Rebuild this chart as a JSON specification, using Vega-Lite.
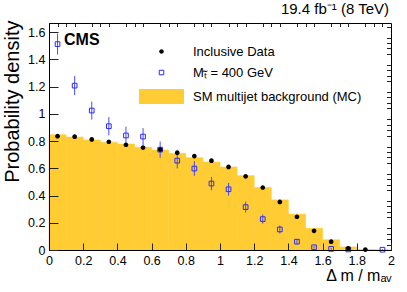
{
  "$schema": "https://vega.github.io/schema/vega-lite/v6.json",
  "width": 342,
  "height": 227,
  "autosize": {"type": "none"},
  "padding": {"left": 49, "top": 23, "right": 16, "bottom": 42},
  "background": "white",
  "title": {"text": "19.4 fb\u207b\u00b9 (8 TeV)", "anchor": "end", "frame": "group", "font": "Liberation Sans", "fontSize": 15, "fontWeight": "normal", "color": "black", "offset": 3, "dx": -2},
  "datasets": {
    "hist": [
      {"lo": 0.0, "hi": 0.1, "v": 0.846},
      {"lo": 0.1, "hi": 0.2, "v": 0.829},
      {"lo": 0.2, "hi": 0.3, "v": 0.807},
      {"lo": 0.3, "hi": 0.4, "v": 0.792},
      {"lo": 0.4, "hi": 0.5, "v": 0.778},
      {"lo": 0.5, "hi": 0.6, "v": 0.755},
      {"lo": 0.6, "hi": 0.7, "v": 0.734},
      {"lo": 0.7, "hi": 0.8, "v": 0.71},
      {"lo": 0.8, "hi": 0.9, "v": 0.678},
      {"lo": 0.9, "hi": 1.0, "v": 0.646},
      {"lo": 1.0, "hi": 1.1, "v": 0.609},
      {"lo": 1.1, "hi": 1.2, "v": 0.546},
      {"lo": 1.2, "hi": 1.3, "v": 0.459},
      {"lo": 1.3, "hi": 1.4, "v": 0.368},
      {"lo": 1.4, "hi": 1.5, "v": 0.263},
      {"lo": 1.5, "hi": 1.6, "v": 0.159},
      {"lo": 1.6, "hi": 1.7, "v": 0.075},
      {"lo": 1.7, "hi": 1.8, "v": 0.022},
      {"lo": 1.8, "hi": 1.9, "v": 0.004},
      {"lo": 1.9, "hi": 2.0, "v": 0.001}
    ],
    "obs": [
      {"c": 0.05, "v": 0.836},
      {"c": 0.15, "v": 0.832},
      {"c": 0.25, "v": 0.812},
      {"c": 0.35, "v": 0.795},
      {"c": 0.45, "v": 0.773},
      {"c": 0.55, "v": 0.752},
      {"c": 0.65, "v": 0.738},
      {"c": 0.75, "v": 0.715},
      {"c": 0.85, "v": 0.69},
      {"c": 0.95, "v": 0.656},
      {"c": 1.05, "v": 0.61},
      {"c": 1.15, "v": 0.541},
      {"c": 1.25, "v": 0.459},
      {"c": 1.35, "v": 0.353},
      {"c": 1.45, "v": 0.244},
      {"c": 1.55, "v": 0.141},
      {"c": 1.65, "v": 0.061},
      {"c": 1.75, "v": 0.012},
      {"c": 1.85, "v": 0.003}
    ],
    "sig": [
      {"c": 0.05, "v": 1.512, "lo": 1.435, "hi": 1.589},
      {"c": 0.15, "v": 1.207, "lo": 1.137, "hi": 1.277},
      {"c": 0.25, "v": 1.024, "lo": 0.958, "hi": 1.09},
      {"c": 0.35, "v": 0.909, "lo": 0.842, "hi": 0.976},
      {"c": 0.45, "v": 0.841, "lo": 0.776, "hi": 0.906},
      {"c": 0.55, "v": 0.833, "lo": 0.771, "hi": 0.895},
      {"c": 0.65, "v": 0.737, "lo": 0.677, "hi": 0.797},
      {"c": 0.75, "v": 0.656, "lo": 0.599, "hi": 0.713},
      {"c": 0.85, "v": 0.598, "lo": 0.544, "hi": 0.652},
      {"c": 0.95, "v": 0.488, "lo": 0.439, "hi": 0.537},
      {"c": 1.05, "v": 0.446, "lo": 0.399, "hi": 0.493},
      {"c": 1.15, "v": 0.315, "lo": 0.275, "hi": 0.355},
      {"c": 1.25, "v": 0.227, "lo": 0.193, "hi": 0.261},
      {"c": 1.35, "v": 0.151, "lo": 0.121, "hi": 0.181},
      {"c": 1.45, "v": 0.061, "lo": 0.043, "hi": 0.079},
      {"c": 1.55, "v": 0.02, "lo": 0.01, "hi": 0.03},
      {"c": 1.65, "v": 0.008, "lo": 0.002, "hi": 0.014},
      {"c": 1.75, "v": 0.004, "lo": 0.0, "hi": 0.008},
      {"c": 1.95, "v": 0.002, "lo": 0.0, "hi": 0.006}
    ]
  },
  "layer": [
    {
      "data": {"name": "hist"},
      "mark": {"type": "rect", "strokeWidth": 0.6, "opacity": 1},
      "encoding": {
        "x": {
          "field": "lo", "type": "quantitative",
          "scale": {"domain": [0, 2], "nice": false, "zero": false},
          "axis": {
            "values": [0, 0.2, 0.4, 0.6, 0.8, 1, 1.2, 1.4, 1.6, 1.8, 2],
            "format": "~g",
            "labelOverlap": false, "labelFlush": false, "labelBound": false,
            "tickSize": -7,
            "labelPadding": 11,
            "title": "\u0394 m / m\u2090\u1d65",
            "titleAnchor": "end", "titleAlign": "right", "titleBaseline": "alphabetic",
            "titleX": 342, "titleY": 30,
            "titleFontSize": 16, "titleFontWeight": "normal",
            "grid": false, "zindex": 1
          }
        },
        "x2": {"field": "hi"},
        "y": {
          "field": "v", "type": "quantitative",
          "scale": {"domain": [0, 1.667], "nice": false},
          "axis": {
            "values": [0, 0.2, 0.4, 0.6, 0.8, 1, 1.2, 1.4, 1.6],
            "format": "~g",
            "labelOverlap": false, "labelFlush": false, "labelBound": false,
            "tickSize": -9,
            "labelPadding": 13,
            "title": "Probability density",
            "titleAnchor": "end", "titleAlign": "right", "titleBaseline": "top", "titleAngle": -90,
            "titleX": -47, "titleY": -3,
            "titleFontSize": 20, "titleFontWeight": "normal",
            "grid": false, "zindex": 1
          }
        },
        "y2": {"datum": 0},
        "fill": {
          "datum": "SM multijet background (MC)", "type": "nominal", "title": null,
          "scale": {
            "domain": ["Inclusive Data", "M\u209c\u0303 = 400 GeV", "SM multijet background (MC)"],
            "range": ["#000000", "transparent", "#ffcc33"]
          },
          "legend": {"title": null, "orient": "none", "legendX": 106, "legendY": 22}
        },
        "stroke": {
          "datum": "SM multijet background (MC)", "type": "nominal", "title": null,
          "scale": {
            "domain": ["Inclusive Data", "M\u209c\u0303 = 400 GeV", "SM multijet background (MC)"],
            "range": ["transparent", "#2b2bff", "#ffcc33"]
          },
          "legend": {"title": null, "orient": "none", "legendX": 106, "legendY": 22}
        }
      }
    },
    {
      "data": {"name": "sig"},
      "mark": {"type": "rule", "color": "#4a4aff", "strokeWidth": 1},
      "encoding": {
        "x": {
          "field": "c", "type": "quantitative",
          "axis": {
            "values": [0.05, 0.1, 0.15, 0.25, 0.3, 0.35, 0.45, 0.5, 0.55, 0.65, 0.7, 0.75, 0.85, 0.9, 0.95, 1.05, 1.1, 1.15, 1.25, 1.3, 1.35, 1.45, 1.5, 1.55, 1.65, 1.7, 1.75, 1.85, 1.9, 1.95],
            "labels": false, "domain": false, "grid": false, "title": null,
            "tickSize": -3.5, "zindex": 1
          }
        },
        "y": {
          "field": "lo", "type": "quantitative",
          "axis": {
            "values": [0.04, 0.08, 0.12, 0.16, 0.24, 0.28, 0.32, 0.36, 0.44, 0.48, 0.52, 0.56, 0.64, 0.68, 0.72, 0.76, 0.84, 0.88, 0.92, 0.96, 1.04, 1.08, 1.12, 1.16, 1.24, 1.28, 1.32, 1.36, 1.44, 1.48, 1.52, 1.56, 1.64],
            "labels": false, "domain": false, "grid": false, "title": null,
            "tickSize": -4.5, "zindex": 1
          }
        },
        "y2": {"field": "hi"}
      }
    },
    {
      "data": {"name": "sig"},
      "mark": {"type": "point", "size": 108, "strokeWidth": 1, "opacity": 1},
      "encoding": {
        "x": {"field": "c", "type": "quantitative", "axis": null},
        "y": {"field": "v", "type": "quantitative", "axis": null},
        "fill": {"datum": "M\u209c\u0303 = 400 GeV", "type": "nominal", "title": null, "legend": {"title": null, "orient": "none", "legendX": 106, "legendY": 22}},
        "stroke": {"datum": "M\u209c\u0303 = 400 GeV", "type": "nominal", "title": null, "legend": {"title": null, "orient": "none", "legendX": 106, "legendY": 22}},
        "shape": {
          "datum": "M\u209c\u0303 = 400 GeV", "type": "nominal", "title": null,
          "scale": {
            "domain": ["Inclusive Data", "M\u209c\u0303 = 400 GeV", "SM multijet background (MC)"],
            "range": ["M-0.45,0A0.45,0.45 0 1,0 0.45,0A0.45,0.45 0 1,0 -0.45,0Z", "M-0.45,-0.45H0.45V0.45H-0.45Z", "M-4.4,-1.4H4.4V1.4H-4.4Z"]
          },
          "legend": {"title": null, "orient": "none", "legendX": 106, "legendY": 22}
        }
      }
    },
    {
      "data": {"name": "obs"},
      "mark": {"type": "point", "size": 108, "strokeWidth": 1, "opacity": 1},
      "encoding": {
        "x": {"field": "c", "type": "quantitative", "axis": null},
        "y": {"field": "v", "type": "quantitative", "axis": null},
        "fill": {"datum": "Inclusive Data", "type": "nominal", "title": null, "legend": {"title": null, "orient": "none", "legendX": 106, "legendY": 22}},
        "stroke": {"datum": "Inclusive Data", "type": "nominal", "title": null, "legend": {"title": null, "orient": "none", "legendX": 106, "legendY": 22}},
        "shape": {"datum": "Inclusive Data", "type": "nominal", "title": null, "legend": {"title": null, "orient": "none", "legendX": 106, "legendY": 22}}
      }
    },
    {
      "data": {"values": [{}]},
      "mark": {"type": "text", "text": "CMS", "font": "Liberation Sans", "fontSize": 16, "fontWeight": "bold", "align": "left", "baseline": "alphabetic", "color": "black"},
      "encoding": {
        "x": {"datum": 0.088, "type": "quantitative", "axis": null},
        "y": {"datum": 1.505, "type": "quantitative", "axis": null}
      }
    }
  ],
  "resolve": {"axis": {"x": "independent", "y": "independent"}},
  "config": {
    "font": "Liberation Sans",
    "view": {"stroke": "black", "strokeWidth": 1},
    "axis": {
      "labelFont": "Liberation Sans", "labelFontSize": 12.5, "labelColor": "black",
      "titleFont": "Liberation Sans", "titleColor": "black",
      "domainColor": "black", "domainWidth": 1,
      "tickColor": "#222222", "tickWidth": 1
    },
    "legend": {
      "padding": 0,
      "symbolSize": 100, "symbolStrokeWidth": 1, "symbolOpacity": 1,
      "labelFont": "Liberation Sans", "labelFontSize": 13, "labelColor": "black",
      "labelOffset": 25, "labelLimit": 300, "rowPadding": 7
    }
  }
}
